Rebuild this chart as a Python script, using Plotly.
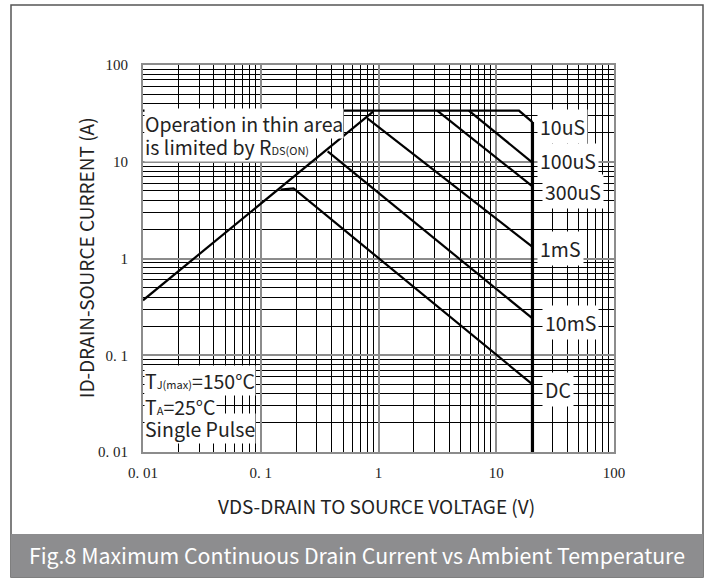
import plotly.graph_objects as go

# ---------------- data ----------------
rds_v = [0.01, 0.9]
rds_i = [0.37, 33.0]

us10_v = [0.01, 15.6, 20.3]
us10_i = [33.8, 33.8, 25.7]

bv_v = [20.3, 20.3]
bv_i = [25.7, 0.01]

us100_v = [5.85, 20.3]
us100_i = [33.8, 9.8]

us300_v = [3.15, 20.3]
us300_i = [33.8, 5.56]

ms1_v = [0.80, 20.3]
ms1_i = [28.2, 1.32]

ms10_v = [0.37, 20.3]
ms10_i = [12.8, 0.24]

dc_v = [0.147, 0.19, 20.3]
dc_i = [5.15, 5.3, 0.050]

curve_labels = ["10uS", "100uS", "300uS", "1mS", "10mS", "DC"]

x_tickvals = [0.01, 0.1, 1, 10, 100]
x_ticktext = ["0. 01", "0. 1", "1", "10", "100"]
y_tickvals = [0.01, 0.1, 1, 10, 100]
y_ticktext = ["0. 01", "0. 1", "1", "10", "100"]

TXT = "Noto Sans CJK SC"
SERIF = "Liberation Serif"
FS = 19.5

fig = go.Figure()
for xs, ys, w in [
    (rds_v, rds_i, 2.2),
    (us10_v, us10_i, 2.4),
    (bv_v, bv_i, 3.2),
    (us100_v, us100_i, 2.2),
    (us300_v, us300_i, 2.2),
    (ms1_v, ms1_i, 2.2),
    (ms10_v, ms10_i, 2.2),
    (dc_v, dc_i, 2.2),
]:
    fig.add_trace(go.Scatter(x=xs, y=ys, mode="lines",
                             line=dict(color="black", width=w),
                             showlegend=False, hoverinfo="skip"))

axis_common = dict(
    type="log", range=[-2, 2], showgrid=True, gridcolor="#8c8c8c", gridwidth=2,
    showline=True, linecolor="#8c8c8c", linewidth=2, mirror=True,
    ticks="outside", tickcolor="rgba(0,0,0,0)", zeroline=False,
    tickfont=dict(family=SERIF, size=15, color="#222"),
    minor=dict(dtick="D1", showgrid=True, gridcolor="black", gridwidth=1, ticks=""),
)
fig.update_xaxes(**axis_common, tickvals=x_tickvals, ticktext=x_ticktext, ticklen=6)
fig.update_yaxes(**axis_common, tickvals=y_tickvals, ticktext=y_ticktext, ticklen=10)

# label positions (log10 x, log10 y) for curve labels
lab_pos = [(1.346, 1.362), (1.346, 1.018), (1.386, 0.690),
           (1.346, 0.105), (1.391, -0.664), (1.391, -1.349)]
for t, (lx, ly) in zip(curve_labels, lab_pos):
    fig.add_annotation(x=lx, y=ly, xref="x", yref="y", text=t, showarrow=False,
                       xanchor="left", yanchor="middle", bgcolor="white",
                       borderpad=2, font=dict(family=TXT, size=FS, color="#222"))

shapes = [
    # outer frame
    dict(type="rect", xref="paper", yref="paper", x0=-0.28025, x1=1.18896,
         y0=-0.323, y1=1.15504, line=dict(color="#555", width=1.5), layer="below"),
    # banner
    dict(type="rect", xref="paper", yref="paper", x0=-0.28025, x1=1.18896,
         y0=-0.323, y1=-0.21189, fillcolor="#8d8d8f", line=dict(width=0), layer="above"),
]
fig.update_layout(shapes=shapes)

SUB = "<span style='font-size:11px'>%s</span>"
# drawn bottom line first so upper boxes never hide lower glyphs
notes = [
    ("is limited by R" + SUB % "DS(ON)", 0.789),
    ("Operation in thin area", 0.850),
    ("Single Pulse", 0.061),
    ("T" + SUB % "A" + "=25°C", 0.117),
    ("T" + SUB % "J(max)" + "=150°C", 0.184),
]
for t, yy in notes:
    fig.add_annotation(x=0.002, y=yy, xref="paper", yref="paper", text=t,
                       showarrow=False, xanchor="left", yanchor="middle",
                       bgcolor="white", borderpad=0,
                       font=dict(family=TXT, size=FS, color="#222"))

fig.add_annotation(x=0.4947, y=-0.137, xref="paper", yref="paper",
                   text="VDS-DRAIN TO SOURCE VOLTAGE (V)", showarrow=False,
                   xanchor="center", yanchor="middle",
                   font=dict(family=TXT, size=19, color="#222"))
fig.add_annotation(x=-0.123, y=0.501, xref="paper", yref="paper",
                   text="ID-DRAIN-SOURCE CURRENT (A)", showarrow=False,
                   textangle=-90, xanchor="center", yanchor="middle",
                   font=dict(family=TXT, size=19, color="#222"))
fig.add_annotation(x=0.4533, y=-0.266, xref="paper", yref="paper",
                   text="Fig.8 Maximum Continuous Drain Current vs Ambient Temperature",
                   showarrow=False, xanchor="center", yanchor="middle",
                   font=dict(family=TXT, size=21.3, color="white"))

fig.update_layout(
    width=711, height=578,
    margin=dict(l=143, r=97, t=65, b=126),
    paper_bgcolor="white", plot_bgcolor="white",
    showlegend=False,
)
fig.write_html("out.html")
